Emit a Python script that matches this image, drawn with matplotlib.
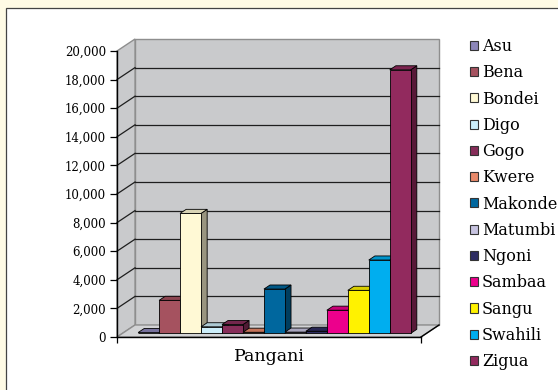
import numpy as np
import matplotlib
matplotlib.use("Agg")
import matplotlib.pyplot as plt
from matplotlib.patches import Polygon, Rectangle, Patch
from matplotlib.colors import to_rgb

# data
groups = ["Asu", "Bena", "Bondei", "Digo", "Gogo", "Kwere", "Makonde",
          "Matumbi", "Ngoni", "Sambaa", "Sangu", "Swahili", "Zigua"]
values = [60, 2310, 8390, 460, 620, 80, 3100, 90, 150, 1620, 3010, 5130, 18430]
colors = ["#8C86B9", "#A5525F", "#FFF9D5", "#CCEEFA", "#862D59", "#E8896A",
          "#00679E", "#C7C3E0", "#2E2D62", "#EC008C", "#FFF200", "#00AEEF",
          "#922A5E"]
category = "Pangani"
y_ticks = list(range(0, 20001, 2000))

plt.rcParams['font.family'] = ['DejaVu Serif']

fig = plt.figure(figsize=(5.58, 3.9), dpi=100)
fig.patch.set_facecolor('#FFFBE5')
# white chart area with thin frame
fig.patches.append(Rectangle((6 / 558, -0.1), 1.2, (390 - 8) / 390 + 0.1,
                             transform=fig.transFigure, facecolor='white',
                             edgecolor='#444444', linewidth=0.9, zorder=-10))

ax = fig.add_axes([117 / 558, 53 / 390, 304 / 558, 286 / 390])
ax.set_facecolor('none')
x0, x1 = -0.75, len(values) + 0.75
ymax = y_ticks[-1]
ax.set_xlim(x0, x1)
ax.set_ylim(0, ymax)

# oblique depth of the 3d box (x in bar widths, y in data units)
DX, DY = 0.86, 840
f0, f1 = 0.30, 0.64   # bar front/back depth fractions

wall = '#C9CACC'
edge = '#8E8E8E'

back = Polygon([(x0 + DX, DY), (x1 + DX, DY), (x1 + DX, ymax + DY), (x0 + DX, ymax + DY)],
               closed=True, facecolor=wall, edgecolor=edge, lw=1.0, clip_on=False, zorder=1)
side = Polygon([(x0, 0), (x0 + DX, DY), (x0 + DX, ymax + DY), (x0, ymax)],
               closed=True, facecolor=wall, edgecolor=edge, lw=1.0, clip_on=False, zorder=1)
floor = Polygon([(x0, 0), (x1, 0), (x1 + DX, DY), (x0 + DX, DY)],
                closed=True, facecolor='#D2D3D5', edgecolor=edge, lw=1.0, clip_on=False, zorder=1)
for p in (back, side, floor):
    ax.add_patch(p)

for v in y_ticks[1:-1]:
    ax.plot([x0 + DX, x1 + DX], [v + DY, v + DY], color='#1E1E1E', lw=0.9,
            clip_on=False, zorder=2)
    ax.plot([x0, x0 + DX], [v, v + DY], color='#1E1E1E', lw=0.9,
            clip_on=False, zorder=2)

# front/right floor edge
ax.plot([x1, x1 + DX], [0, DY], color='black', lw=1.0, clip_on=False, zorder=3)


def shade(c, k):
    r, g, b = to_rgb(c)
    return (r * k, g * k, b * k)


bw = 1.0
ox, oy = f0 * DX, f0 * DY
dx, dy = (f1 - f0) * DX, (f1 - f0) * DY
for i, (v, c) in enumerate(zip(values, colors)):
    xl = i + ox
    xr = xl + bw
    yb = oy
    yt = oy + v
    z = 4 + i * 0.01
    ax.add_patch(Polygon([(xr, yb), (xr + dx, yb + dy), (xr + dx, yt + dy), (xr, yt)],
                         closed=True, facecolor=shade(c, 0.6), edgecolor='black',
                         lw=0.6, clip_on=False, zorder=z))
    ax.add_patch(Polygon([(xl, yt), (xr, yt), (xr + dx, yt + dy), (xl + dx, yt + dy)],
                         closed=True, facecolor=shade(c, 0.85), edgecolor='black',
                         lw=0.6, clip_on=False, zorder=z))
    ax.add_patch(Rectangle((xl, yb), bw, v, facecolor=c, edgecolor='black',
                           lw=0.6, clip_on=False, zorder=z))

# axes
for s in ('top', 'right'):
    ax.spines[s].set_visible(False)
for s in ('left', 'bottom'):
    ax.spines[s].set_color('black')
    ax.spines[s].set_linewidth(1.0)
    ax.spines[s].set_zorder(10)

ax.set_yticks(y_ticks)
ax.set_yticklabels([f"{v:,}" for v in y_ticks])
ax.tick_params(axis='y', direction='out', length=5, width=0.9, labelsize=8.5, pad=3)
ax.set_xticks([(x0 + x1) / 2])
ax.set_xticklabels([category])
ax.tick_params(axis='x', which='major', length=0, labelsize=12.5, pad=8)
ax.set_xticks([x0, x1], minor=True)
ax.tick_params(axis='x', which='minor', direction='out', length=4, width=0.9)

handles = [Patch(facecolor=c, edgecolor='#333333', lw=0.8) for c in colors]
fig.legend(handles, groups, loc='upper left', bbox_to_anchor=(470 / 558, 1 - 38 / 390),
           frameon=False, fontsize=11.5, handlelength=0.5, handleheight=0.5,
           handletextpad=0.25, labelspacing=0.58, borderaxespad=0, borderpad=0)

fig.savefig('out.png', dpi=100, facecolor=fig.get_facecolor())
